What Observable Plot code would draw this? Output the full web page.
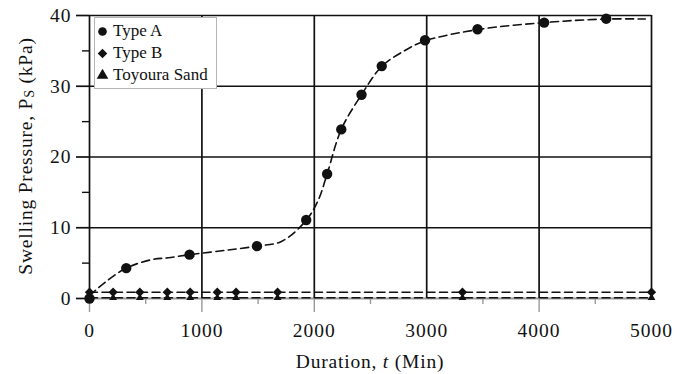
<!DOCTYPE html>
<html>
<head>
<meta charset="utf-8">
<script src="https://cdn.jsdelivr.net/npm/d3@7"></script>
<script src="https://cdn.jsdelivr.net/npm/@observablehq/plot@0.6"></script>
<style>
  body { margin: 0; background: #fff; }
  #wrap { position: relative; width: 688px; height: 374px; font-family: "Liberation Serif", "Times New Roman", serif; }
  #wrap svg.main, #wrap svg.main text { font-family: "Liberation Serif", "Times New Roman", serif !important; }
  #wrap svg.main text { letter-spacing: 1px; }
  #wrap svg.main text.title { letter-spacing: 0.8px; }
  #leg { position: absolute; left: 94px; top: 17px; width: 123px; height: 72px; box-sizing: border-box;
         border: 1px solid #b5b5b5; background: #fff; padding: 2px 0 0 0; overflow: hidden; }
  #leg, #leg * { font-family: "Liberation Serif", "Times New Roman", serif !important; }
  #leg .lg-swatch { height: 22px !important; display: flex !important; align-items: center !important; padding: 0 !important; margin: 0 !important; font-size: 17px !important; }
  #leg .lg-swatch svg { margin-right: 3px !important; }
  #leg > div { margin: 0 !important; }
</style>
</head>
<body>
<div id="wrap"><div id="leg"></div></div>
<script>
// ---- data ----
const seriesNames = ["Type A", "Type B", "Toyoura Sand"];

// Type A measured points
const tA = [0, 327, 890, 1490, 1928, 2114, 2240, 2420, 2600, 2985, 3452, 4045, 4597];
const pA = [0, 4.3, 6.2, 7.4, 11.1, 17.6, 23.9, 28.8, 32.85, 36.5, 38.05, 39.0, 39.55];

// Type A dashed trend curve
const fitT = [0, 140, 327, 555, 700, 890, 1207, 1490, 1712, 1925, 2035, 2114, 2240, 2420, 2600, 2800, 2985, 3452, 4045, 4597, 4945];
const fitP = [0.4, 2.3, 4.3, 5.5, 5.75, 6.2, 6.8, 7.4, 8.1, 11.0, 13.9, 17.6, 23.9, 28.8, 32.8, 35.0, 36.4, 38.0, 39.0, 39.5, 39.5];

// Type B points
const tB = [0, 210, 448, 692, 896, 1137, 1304, 1673, 3318, 5000];
const pB = [0.9, 0.9, 0.9, 0.9, 0.9, 0.9, 0.9, 0.9, 0.9, 0.9];

// Toyoura Sand points
const tC = [0, 210, 448, 692, 896, 1137, 1304, 1673, 3318, 5000];
const pC = [0.1, 0.1, 0.1, 0.1, 0.1, 0.1, 0.1, 0.1, 0.1, 0.1];

// ticks
const xTicks = [0, 1000, 2000, 3000, 4000, 5000];
const xTickMarks = [0, 1000, 2000, 4000];
const xMinor = [500, 1500, 2500, 3500, 4500];
const yTicks = [0, 10, 20, 30, 40];
const yMinor = [5, 15, 25, 35];
const yGrid = [10, 20, 30, 40];
const xGrid = [1000, 2000, 3000, 4000, 5000];

const xTitle = ["Duration, ", "t", " (Min)"];
const yTitle = ["Swelling Pressure, P", "S", " (kPa)"];

// ---- tables ----
const A = tA.map((t, i) => ({t, p: pA[i], s: seriesNames[0]}));
const fitA = fitT.map((t, i) => ({t, p: fitP[i]}));
const B = tB.map((t, i) => ({t, p: pB[i], s: seriesNames[1]}));
const C = tC.map((t, i) => ({t, p: pC[i], s: seriesNames[2]}));

const ink = "#111";
const serif = "'Liberation Serif', 'Times New Roman', serif";
const symbolScale = {domain: seriesNames, range: ["circle", "diamond2", "triangle"]};
const fmt = d => String(d);

const plot = Plot.plot({
  width: 688, height: 374,
  marginLeft: 89, marginRight: 37, marginTop: 15, marginBottom: 76,
  x: {domain: [0, 5000]},
  y: {domain: [0, 40]},
  symbol: symbolScale,
  className: "main",
  style: {fontFamily: serif, fontSize: "19px", color: ink, background: "white", overflow: "visible"},
  marks: [
    Plot.ruleY([0], {stroke: "#9a9a9a", strokeWidth: 2}),
    Plot.ruleY(yGrid, {stroke: ink, strokeWidth: 1.7}),
    Plot.ruleX(xGrid, {stroke: ink, strokeWidth: 1.7}),
    Plot.ruleX([0], {stroke: ink, strokeWidth: 1.7}),
    Plot.axisY(yTicks, {tickSize: 13, stroke: ink, strokeWidth: 1.7, fill: ink, tickPadding: 5, fontSize: 19.5, tickFormat: fmt, label: null}),
    Plot.axisY(yMinor, {tickSize: 7, stroke: ink, strokeWidth: 1.4, fill: "none", label: null}),
    Plot.axisX(xTickMarks, {tickSize: 14, stroke: "#9a9a9a", strokeWidth: 1.4, fill: "none", label: null}),
    Plot.axisX(xMinor, {tickSize: 6, stroke: "#9a9a9a", strokeWidth: 1.4, fill: "none", label: null}),
    Plot.axisX(xTicks, {tickSize: 0, tickPadding: 25, fill: ink, fontSize: 19.5, tickFormat: fmt, label: null}),
    Plot.line(C, {x: "t", y: "p", stroke: ink, strokeWidth: 1.5, strokeDasharray: "8,4.5"}),
    Plot.line(B, {x: "t", y: "p", stroke: ink, strokeWidth: 1.5, strokeDasharray: "8,4.5"}),
    Plot.line(fitA, {x: "t", y: "p", stroke: ink, strokeWidth: 1.6, strokeDasharray: "8,4.5", curve: "catmull-rom"}),
    Plot.dot(C, {x: "t", y: "p", symbol: "s", fill: ink, stroke: "none", r: 2.9}),
    Plot.dot(B, {x: "t", y: "p", symbol: "s", fill: ink, stroke: "none", r: 4.2}),
    Plot.dot(A, {x: "t", y: "p", symbol: "s", fill: ink, stroke: "none", r: 5.2})
  ]
});

// axis titles with rich text (italic t, subscript S)
const svg = d3.select(plot);
const xt = svg.append("text")
  .attr("class", "title")
  .attr("x", 370).attr("y", 367.5)
  .attr("text-anchor", "middle")
  .attr("fill", ink)
  .attr("font-size", 19.5);
xt.append("tspan").text(xTitle[0]);
xt.append("tspan").attr("font-style", "italic").text(xTitle[1]);
xt.append("tspan").text(xTitle[2]);

const yt = svg.append("text")
  .attr("class", "title")
  .attr("transform", "translate(32,156) rotate(-90)")
  .attr("text-anchor", "middle")
  .attr("fill", ink)
  .attr("font-size", 19.5);
yt.append("tspan").text(yTitle[0]);
yt.append("tspan").attr("font-size", 14).attr("dy", 2).text(yTitle[1]);
yt.append("tspan").attr("dy", -2).text(yTitle[2]);

document.getElementById("wrap").prepend(plot);

// legend drawn by Plot
const leg = Plot.legend({
  symbol: symbolScale,
  fill: ink, stroke: "none", r: 4.6,
  columns: 1,
  className: "lg",
  style: {fontFamily: serif, fontSize: "17px", color: ink, margin: "0"}
});
document.getElementById("leg").append(leg);
</script>
</body>
</html>
